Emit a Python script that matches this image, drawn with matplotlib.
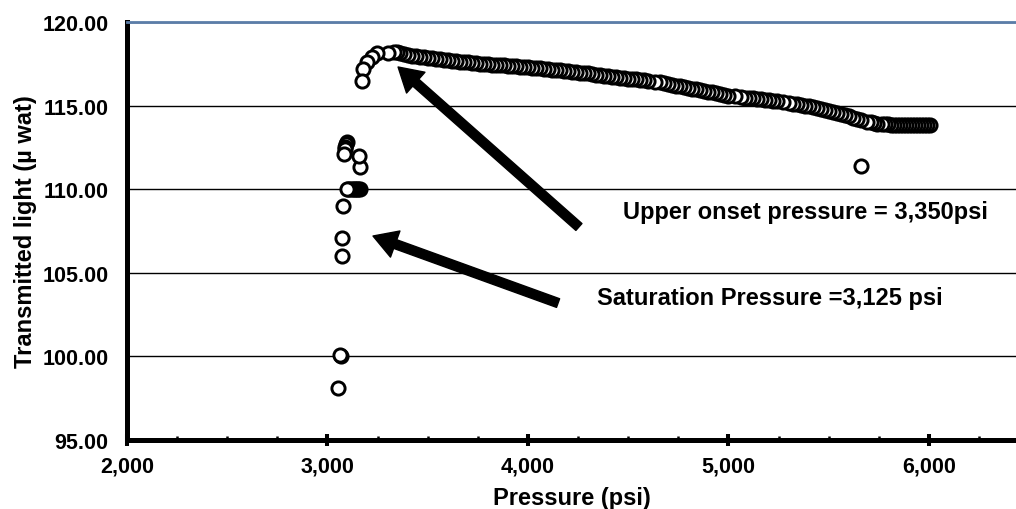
import matplotlib
matplotlib.use("Agg")
import matplotlib.pyplot as plt
from matplotlib.ticker import FuncFormatter, MultipleLocator, FixedLocator

plt.rcParams['font.family'] = ['Liberation Sans', 'DejaVu Sans']
plt.rcParams['font.weight'] = 'bold'

# Pressure (psi) and transmitted light (micro watt), in recorded order (high -> low pressure)
pressure = [
    6005, 5990, 5975, 5960, 5945, 5930, 5915, 5900, 5885, 5870, 5855, 5840, 5825, 5810, 5795, 5780, 5765,
    5740, 5725, 5710, 5690, 5660, 5640, 5620, 5600, 5580, 5560, 5540, 5520, 5500, 5480, 5460, 5440, 5420,
    5400, 5380, 5360, 5340, 5320, 5300, 5273, 5240, 5220, 5200, 5180, 5160, 5140, 5120, 5100, 5080, 5060,
    5032, 5000, 4980, 4960, 4940, 4920, 4900, 4880, 4860, 4840, 4820, 4800, 4780, 4760, 4740, 4720, 4700,
    4680, 4660, 4633, 4600, 4580, 4560, 4540, 4520, 4500, 4480, 4460, 4440, 4420, 4400, 4380, 4360, 4340,
    4320, 4300, 4280, 4260, 4240, 4220, 4200, 4180, 4160, 4140, 4120, 4100, 4080, 4060, 4040, 4020, 4000,
    3980, 3960, 3940, 3920, 3900, 3880, 3860, 3840, 3820, 3800, 3780, 3760, 3740, 3720, 3700, 3680, 3660,
    3640, 3620, 3600, 3580, 3560, 3540, 3520, 3500, 3480, 3460, 3440, 3420, 3400, 3380, 3360, 3345, 3330,
    3303, 3245, 3220, 3195, 3175, 3170,
    3162, 3159, 3160, 3152, 3145, 3138, 3130, 3122, 3113, 3104, 3096,
    3095, 3092, 3089, 3086, 3082, 3079, 3071, 3071, 3068, 3062, 3052,
]
light = [
    113.82, 113.82, 113.82, 113.83, 113.83, 113.83, 113.84, 113.84, 113.84, 113.85, 113.85, 113.85, 113.86, 113.86, 113.87, 113.87, 113.88,
    113.92, 113.96, 113.99, 114.02, 114.12, 114.20, 114.28, 114.36, 114.44, 114.50, 114.56, 114.63, 114.70, 114.75, 114.80, 114.86, 114.90,
    114.95, 115.00, 115.03, 115.07, 115.11, 115.15, 115.20, 115.26, 115.29, 115.32, 115.35, 115.38, 115.41, 115.43, 115.46, 115.48, 115.51,
    115.55, 115.60, 115.65, 115.70, 115.75, 115.80, 115.84, 115.88, 115.93, 115.98, 116.02, 116.06, 116.10, 116.15, 116.20, 116.25, 116.30,
    116.35, 116.39, 116.43, 116.48, 116.52, 116.55, 116.58, 116.60, 116.62, 116.65, 116.67, 116.70, 116.72, 116.75, 116.78, 116.82, 116.86,
    116.89, 116.92, 116.95, 116.97, 117.00, 117.02, 117.05, 117.07, 117.10, 117.12, 117.15, 117.18, 117.20, 117.22, 117.25, 117.27, 117.30,
    117.31, 117.33, 117.35, 117.37, 117.38, 117.40, 117.42, 117.44, 117.45, 117.47, 117.49, 117.51, 117.53, 117.55, 117.58, 117.60, 117.63,
    117.66, 117.69, 117.72, 117.74, 117.77, 117.80, 117.82, 117.85, 117.88, 117.91, 117.94, 117.98, 118.02, 118.08, 118.14, 118.19, 118.20,
    118.15, 118.15, 117.89, 117.59, 117.19, 116.49,
    111.35, 112.00, 110.00, 110.00, 110.00, 110.00, 110.00, 110.00, 110.00, 110.00, 110.00,
    112.85, 112.70, 112.55, 112.40, 112.10, 109.00, 107.06, 106.00, 100.00, 100.10, 98.10,
]
# isolated reading
outlier_p = [5660]
outlier_l = [111.4]

x_major = [2000, 3000, 4000, 5000, 6000]
y_ticks = [95, 100, 105, 110, 115, 120]
x_label = "Pressure (psi)"
y_label = "Transmitted light (\u00b5 wat)"
ann_upper = "Upper onset pressure = 3,350psi"
ann_sat = "Saturation Pressure =3,125 psi"

fig = plt.figure(figsize=(10.16, 5.10), dpi=100)
ax = fig.add_axes([0.125, 0.1353, 0.875, 0.8196])
ax.set_xlim(2000, 6434)
ax.set_ylim(95, 120)

ax.set_axisbelow(True)
ax.yaxis.grid(True, color='black', lw=1.0)
ax.xaxis.grid(False)

ax.plot(pressure, light, ls='none', marker='o', ms=9.5, mew=2.1,
        mfc='white', mec='black', zorder=3, clip_on=False)
ax.plot(outlier_p, outlier_l, ls='none', marker='o', ms=9.5, mew=2.1,
        mfc='white', mec='black', zorder=3)

for s in ['left', 'bottom']:
    ax.spines[s].set_linewidth(3.6)
    ax.spines[s].set_color('black')
ax.spines['right'].set_visible(False)
ax.spines['top'].set_color('#5B7DA8')
ax.spines['top'].set_linewidth(2.0)

ax.xaxis.set_major_locator(FixedLocator(x_major))
ax.xaxis.set_minor_locator(MultipleLocator(250))
ax.yaxis.set_major_locator(FixedLocator(y_ticks))
ax.xaxis.set_major_formatter(FuncFormatter(lambda v, p: f"{v:,.0f}"))
ax.yaxis.set_major_formatter(FuncFormatter(lambda v, p: f"{v:.2f}"))

ax.tick_params(axis='x', which='major', direction='inout', length=9, width=2.9,
               pad=7, labelsize=15.5)
ax.tick_params(axis='x', which='minor', direction='in', length=3.2, width=1.8)
ax.tick_params(axis='y', which='major', length=0, pad=13.5, labelsize=15.5)
for lab in ax.get_xticklabels() + ax.get_yticklabels():
    lab.set_fontweight('bold')

ax.set_xlabel(x_label, fontsize=17, fontweight='bold', labelpad=6.5)
ax.set_ylabel(y_label, fontsize=17, fontweight='bold', labelpad=3.5)

arrow_style = 'simple,head_length=0.85,head_width=1.0,tail_width=0.33'
ax.annotate('', xy=(3352, 117.31), xytext=(4254, 107.74),
            arrowprops=dict(arrowstyle=arrow_style, mutation_scale=20,
                            color='black', shrinkA=0, shrinkB=0), zorder=5)
ax.annotate('', xy=(3227, 107.2), xytext=(4150, 103.19),
            arrowprops=dict(arrowstyle=arrow_style, mutation_scale=20,
                            color='black', shrinkA=0, shrinkB=0), zorder=5)

ax.text(4474, 108.64, ann_upper, fontsize=17, fontweight='bold', ha='left', va='center')
ax.text(4344, 103.55, ann_sat, fontsize=17, fontweight='bold', ha='left', va='center')

fig.savefig("out.png", dpi=100)
